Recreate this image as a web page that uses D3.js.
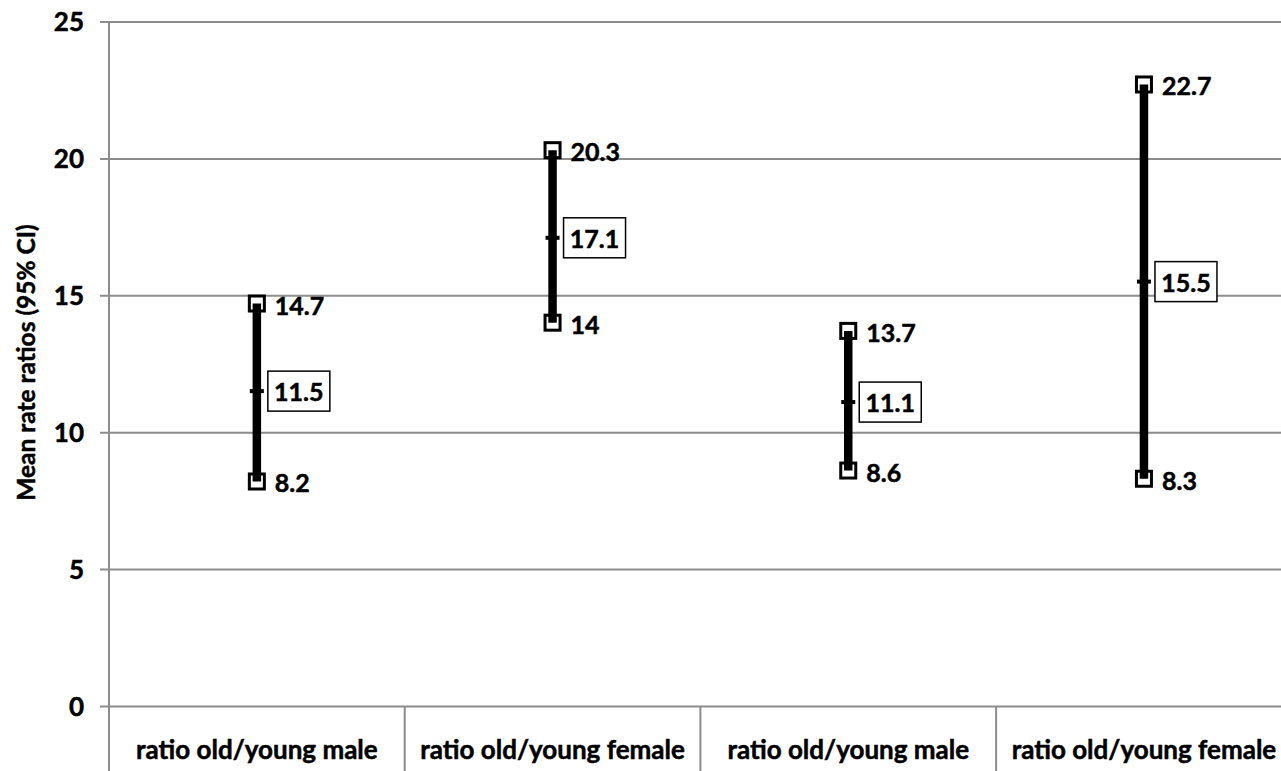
<!DOCTYPE html>
<html>
<head>
<meta charset="utf-8">
<script src="https://cdn.jsdelivr.net/npm/d3@7"></script>
<style>
  html, body { margin: 0; padding: 0; background: #fff; overflow: hidden; }
  svg { display: block; font-family: Lato, "Open Sans", sans-serif; font-weight: bold; }
  svg text { font-weight: bold; stroke: #000; stroke-width: 0.5px; }
</style>
</head>
<body>
<svg id="chart" width="1281" height="771"></svg>
<script>
// Mean rate ratios with 95% confidence intervals
const categories = ["ratio old/young male", "ratio old/young female", "ratio old/young male", "ratio old/young female"];
const highValues = [14.7, 20.3, 13.7, 22.7];
const meanValues = [11.5, 17.1, 11.1, 15.5];
const lowValues  = [8.2, 14, 8.6, 8.3];
const yTicks = [0, 5, 10, 15, 20, 25];
const yTitle = "Mean rate ratios (95% CI)";

const rows = categories.map((c, i) => ({
  i, name: c, hi: highValues[i], mean: meanValues[i], lo: lowValues[i]
}));

const svg = d3.select("#chart");
const plotLeft = 109, plotTop = 21.5, plotBottom = 706, catWidth = 295.7;
const gridColor = "#8c8c8c";
const fontStack = "Lato, 'Open Sans', sans-serif";

const y = d3.scaleLinear().domain([0, 25]).range([plotBottom, plotTop]);
const x = d3.scaleBand().domain(rows.map(d => d.i))
  .range([plotLeft, plotLeft + catWidth * categories.length]).padding(0);

// horizontal gridlines with outward ticks
const yAxis = d3.axisLeft(y).tickValues(yTicks).tickSize(0).tickPadding(0).tickFormat(d => d);
const gy = svg.append("g").attr("transform", `translate(${plotLeft},0)`).call(yAxis)
  .attr("font-family", fontStack).attr("font-size", 26);
gy.select(".domain").remove();
gy.selectAll(".tick line").attr("x1", -9).attr("x2", catWidth * 4)
  .attr("stroke", gridColor).attr("stroke-width", 2);
gy.selectAll(".tick text").attr("x", -25).attr("dy", "0.36em")
  .attr("fill", "#000");

// vertical axis line and category separators reaching the label band
svg.append("line").attr("x1", plotLeft).attr("x2", plotLeft).attr("y1", plotTop).attr("y2", 771)
  .attr("stroke", gridColor).attr("stroke-width", 2);
svg.selectAll("line.sep").data(rows.slice(1)).join("line").attr("class", "sep")
  .attr("x1", d => x(d.i)).attr("x2", d => x(d.i))
  .attr("y1", plotBottom).attr("y2", 771)
  .attr("stroke", gridColor).attr("stroke-width", 2);

// category labels
svg.selectAll("text.cat").data(rows).join("text").attr("class", "cat")
  .attr("x", d => x(d.i) + x.bandwidth() / 2).attr("y", 750)
  .attr("text-anchor", "middle").attr("dy", "0.36em")
  .attr("font-size", 26).attr("fill", "#000")
  .text(d => d.name);

// y-axis title
svg.append("text")
  .attr("transform", `translate(26,${(222 + 503) / 2}) rotate(-90)`)
  .attr("text-anchor", "middle").attr("dy", "0.36em")
  .attr("font-size", 24.5).attr("font-weight", "bold").attr("fill", "#000")
  .text(yTitle);

const cx = d => x(d.i) + x.bandwidth() / 2;
const sq = 15;

// confidence interval markers
const g = svg.append("g");
g.selectAll("rect.hi").data(rows).join("rect").attr("class", "hi")
  .attr("x", d => cx(d) - sq / 2).attr("y", d => y(d.hi) - sq / 2)
  .attr("width", sq).attr("height", sq)
  .attr("fill", "#fff").attr("stroke", "#000").attr("stroke-width", 3);
g.selectAll("rect.lo").data(rows).join("rect").attr("class", "lo")
  .attr("x", d => cx(d) - sq / 2).attr("y", d => y(d.lo) - sq / 2)
  .attr("width", sq).attr("height", sq)
  .attr("fill", "#fff").attr("stroke", "#000").attr("stroke-width", 3);

// interval bars
g.selectAll("line.ci").data(rows).join("line").attr("class", "ci")
  .attr("x1", cx).attr("x2", cx)
  .attr("y1", d => y(d.hi)).attr("y2", d => y(d.lo))
  .attr("stroke", "#000").attr("stroke-width", 8.5);

// mean tick
g.selectAll("rect.mean").data(rows).join("rect").attr("class", "mean")
  .attr("x", d => cx(d) - 7).attr("y", d => y(d.mean) - 2)
  .attr("width", 14).attr("height", 4).attr("fill", "#000");

// value labels for bounds
const labelStyle = sel => sel.attr("font-size", 25).attr("fill", "#000").attr("dy", "0.36em");
g.selectAll("text.hi").data(rows).join("text").attr("class", "hi")
  .attr("x", d => cx(d) + 18).attr("y", d => y(d.hi) + 2)
  .call(labelStyle).text(d => d.hi);
g.selectAll("text.lo").data(rows).join("text").attr("class", "lo")
  .attr("x", d => cx(d) + 18).attr("y", d => y(d.lo) + 2)
  .call(labelStyle).text(d => d.lo);

// boxed mean labels
const mb = g.selectAll("g.meanlab").data(rows).join("g").attr("class", "meanlab")
  .attr("transform", d => `translate(${cx(d) + 11},${y(d.mean)})`);
mb.append("rect").attr("x", 0).attr("y", -20).attr("width", 62).attr("height", 40)
  .attr("fill", "#fff").attr("stroke", "#000").attr("stroke-width", 1.5);
mb.append("text").attr("x", 31).attr("y", 1).attr("text-anchor", "middle")
  .call(labelStyle).text(d => d.mean);
</script>
</body>
</html>
